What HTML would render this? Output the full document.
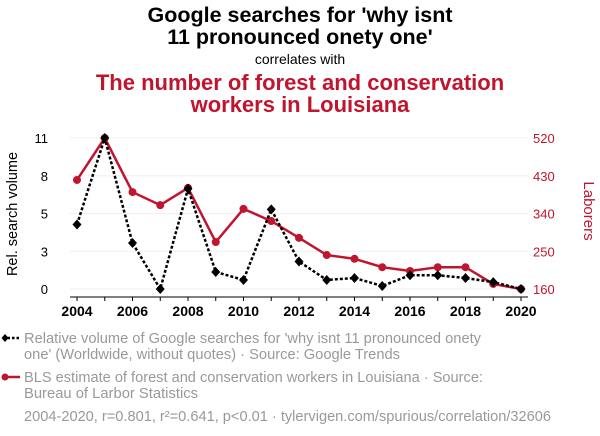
<!DOCTYPE html>
<html><head><meta charset="utf-8"><style>
body{margin:0;width:600px;height:436px;background:#fff;font-family:"Liberation Sans",sans-serif;overflow:hidden}
svg{display:block}
</style></head><body>
<svg id="c" width="600" height="436">
<text x="300" y="22" text-anchor="middle" font-size="21.5" font-weight="bold" fill="#000">Google searches for 'why isnt</text>
<text x="300" y="44" text-anchor="middle" font-size="21.5" font-weight="bold" fill="#000">11 pronounced onety one'</text>
<text x="300" y="64" text-anchor="middle" font-size="14" fill="#000">correlates with</text>
<text x="300" y="90" text-anchor="middle" font-size="22" font-weight="bold" fill="#c0152f">The number of forest and conservation</text>
<text x="300" y="112" text-anchor="middle" font-size="22" font-weight="bold" fill="#c0152f">workers in Louisiana</text>
<text transform="translate(17,214) rotate(-90)" text-anchor="middle" font-size="14.5" fill="#000">Rel. search volume</text>
<text transform="translate(584,211) rotate(90)" text-anchor="middle" font-size="15" fill="#c0152f">Laborers</text>
<g id="grid"></g><g id="axes"></g><g id="marks"></g>
<g>
<line x1="3" y1="338" x2="20" y2="338" stroke="#000" stroke-width="2.5" stroke-dasharray="2.5,2"/>
<path d="M5,334 L8.5,338 L5,342 L1.5,338Z" fill="#000"/>
<text x="24" y="343" font-size="14.6" textLength="457" lengthAdjust="spacingAndGlyphs" fill="#999">Relative volume of Google searches for 'why isnt 11 pronounced onety</text>
<text x="24" y="359" font-size="14.6" textLength="376" lengthAdjust="spacingAndGlyphs" fill="#999">one' (Worldwide, without quotes) · Source: Google Trends</text>
<line x1="3" y1="377" x2="20" y2="377" stroke="#c0152f" stroke-width="2.5"/>
<circle cx="5" cy="377" r="3.5" fill="#c0152f"/>
<text x="24" y="382" font-size="14.6" textLength="459" lengthAdjust="spacingAndGlyphs" fill="#999">BLS estimate of forest and conservation workers in Louisiana · Source:</text>
<text x="24" y="398" font-size="14.6" textLength="174" lengthAdjust="spacingAndGlyphs" fill="#999">Bureau of Larbor Statistics</text>
</g>
<text x="24" y="421" font-size="14.6" textLength="527" lengthAdjust="spacingAndGlyphs" fill="#999">2004-2020, r=0.801, r²=0.641, p&lt;0.01 · tylervigen.com/spurious/correlation/32606</text>
</svg>
<script>
const years=[2004,2005,2006,2007,2008,2009,2010,2011,2012,2013,2014,2015,2016,2017,2018,2019,2020];
const searches=[4.7,11,3.35,0,7.3,1.24,0.66,5.8,2.0,0.66,0.8,0.22,1.0,1.0,0.8,0.5,0];
const workers=[420,520,391,360,401,272,351,322,282,241,232,212,203,212,212,172,160];
const leftTicks=[0,2.75,5.5,8.25,11];
const leftLabels=["0","3","5","8","11"];
const rightTicks=[160,250,340,430,520];
const xTicks=[2004,2006,2008,2010,2012,2014,2016,2018,2020];
const NS="http://www.w3.org/2000/svg";
const X=y=>77+(y-2004)*(521-77)/16;
const YL=v=>289-v*(289-138)/11;
const YR=v=>289-(v-160)*(289-138)/360;
function mk(tag,attrs,parent,text){const e=document.createElementNS(NS,tag);for(const k in attrs)e.setAttribute(k,attrs[k]);if(text!==undefined)e.textContent=text;document.getElementById(parent).appendChild(e);return e;}
leftTicks.forEach((t,i)=>{
 const g=mk('line',{x1:70,x2:528,y1:YL(t),y2:YL(t),stroke:'#f0f0f0','stroke-width':1},'grid');
 
 
 const l=mk('text',{x:48,y:YL(t)+5,'text-anchor':'end','font-size':13,fill:'#000'},'axes',leftLabels[i]);
 
 
});
rightTicks.forEach(t=>{
 const l=mk('text',{x:533,y:YR(t)+5,'font-size':13,fill:'#c0152f'},'axes',String(t));
 
 
});
const ax=mk('line',{x1:70,x2:528,y1:297,y2:297,stroke:'#000','stroke-width':1},'axes');


years.forEach(y=>{mk('line',{x1:X(y),x2:X(y),y1:297,y2:301,stroke:'#000'},'axes');});
xTicks.forEach(y=>{
 const l=mk('text',{x:X(y),y:316,'text-anchor':'middle','font-size':14,'font-weight':'bold',fill:'#000'},'axes',String(y));
 
 
});
const rp=mk('polyline',{points:years.map((y,i)=>X(y)+','+YR(workers[i])).join(' '),fill:'none',stroke:'#c0152f','stroke-width':2.5},'marks');


years.forEach((y,i)=>{
 const c=mk('circle',{cx:X(y),cy:YR(workers[i]),r:4,fill:'#c0152f'},'marks');
 
 
});
const bp=mk('polyline',{points:years.map((y,i)=>X(y)+','+YL(searches[i])).join(' '),fill:'none',stroke:'#000','stroke-width':2.5,'stroke-dasharray':'3,2'},'marks');


years.forEach((y,i)=>{
 const cx=X(y),cy=YL(searches[i]);
 const d=mk('path',{d:`M${cx},${cy-5} L${cx+4.5},${cy} L${cx},${cy+5} L${cx-4.5},${cy}Z`,fill:'#000'},'marks');
 
 
});
</script>
</body></html>
